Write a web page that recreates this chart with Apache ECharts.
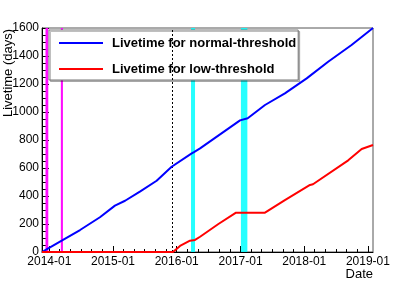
<!DOCTYPE html>
<html>
<head>
<meta charset="utf-8">
<script src="https://cdn.jsdelivr.net/npm/echarts@6/dist/echarts.min.js"></script>
<style>
html,body{margin:0;padding:0;background:#fff;}
#c{width:415px;height:281px;}
</style>
</head>
<body>
<div id="c"></div>
<script>
// ---- data ----
const normalDates = ['2013-11-20','2013-12-26','2014-03-13','2014-06-26','2014-10-18','2015-01-12','2015-03-11','2015-06-04','2015-09-08','2015-12-03','2016-03-27','2016-04-09','2016-05-14','2016-12-29','2017-02-11','2017-05-21','2017-09-12','2018-01-15','2018-05-18','2018-09-29','2019-01-30'];
const normalLivetime = [0,26,81,157,248,331,366,431,509,609,705,714,740,940,955,1050,1133,1240,1359,1479,1600];
const lowDates = ['2013-11-20','2015-12-11','2016-01-20','2016-03-17','2016-04-15','2016-05-14','2016-08-27','2016-12-06','2017-05-21','2017-09-12','2018-02-03','2018-02-20','2018-09-10','2018-11-26','2019-01-30'];
const lowLivetime = [0,0,43,81,86,109,200,281,281,371,479,484,655,736,764];
const yearTicks = ['2014-01','2015-01','2016-01','2017-01','2018-01','2019-01'];
const minorTickMonths = ['2014-03','2014-05','2014-07','2014-09','2014-11','2015-03','2015-05','2015-07','2015-09','2015-11','2016-03','2016-05','2016-07','2016-09','2016-11','2017-03','2017-05','2017-07','2017-09','2017-11','2018-03','2018-05','2018-07','2018-09','2018-11'];
const magentaBands = [['2013-12-10','2013-12-26'],['2014-03-08','2014-03-20']];
const cyanBands = [['2016-03-23','2016-04-15'],['2017-01-03','2017-02-09']];
const dottedLineDate = '2015-12-04';
const seriesNames = ['Livetime for normal-threshold','Livetime for low-threshold'];
const xMin = '2013-11-20', xMax = '2019-01-30';

function ts(s){ const p = s.split('-').map(Number); return Date.UTC(p[0], p[1]-1, p[2]||1); }
const FONT = 'Liberation Sans';

const chart = echarts.init(document.getElementById('c'), null, {renderer:'canvas'});
const bandData = magentaBands.map(b => [{xAxis: ts(b[0]), itemStyle:{color:'rgba(255,0,255,0.95)'}},{xAxis: ts(b[1])}])
  .concat(cyanBands.map(b => [{xAxis: ts(b[0]), itemStyle:{color:'rgba(0,255,255,0.85)'}},{xAxis: ts(b[1])}]));

chart.setOption({
  animation:false,
  backgroundColor:'#fff',
  grid:{left:42,right:42,top:28,bottom:29,show:true,borderColor:'#555',borderWidth:1,backgroundColor:'transparent'},
  legend:{
    orient:'vertical', left:49, top:30,
    padding:[6,2,4,10], itemGap:12, itemWidth:44, itemHeight:2, icon:'rect',
    backgroundColor:'#fff', borderColor:'#777', borderWidth:1,
    shadowColor:'rgba(0,0,0,0.25)', shadowOffsetX:1.5, shadowOffsetY:1.5, shadowBlur:0,
    textStyle:{fontFamily:FONT,fontSize:13,fontWeight:'bold',color:'#000',lineHeight:14,padding:[0,0,0,4]},
    data:seriesNames
  },
  xAxis:[{
    type:'value', min:ts(xMin), max:ts(xMax),
    axisLine:{show:true,lineStyle:{color:'#000',width:1}},
    axisTick:{show:true,inside:true,length:6,lineStyle:{color:'#000'},customValues:yearTicks.map(ts)},
    axisLabel:{show:true,color:'#000',fontFamily:FONT,fontSize:12,margin:4,
      customValues:yearTicks.map(ts),
      formatter:function(v){const d=new Date(v);return d.getUTCFullYear()+'-'+String(d.getUTCMonth()+1).padStart(2,'0');}},
    splitLine:{show:false}
  },{
    type:'value', min:ts(xMin), max:ts(xMax), position:'bottom',
    axisLine:{show:false},
    axisTick:{show:true,inside:true,length:3,lineStyle:{color:'#000'},customValues:minorTickMonths.map(ts)},
    axisLabel:{show:false},
    splitLine:{show:false}
  }],
  yAxis:{
    type:'value', min:0, max:1600, interval:200,
    axisLine:{show:true,lineStyle:{color:'#000',width:1}},
    axisTick:{show:true,inside:true,length:7,lineStyle:{color:'#000'}},
    minorTick:{show:true,splitNumber:4,length:4,lineStyle:{color:'#000'}},
    axisLabel:{color:'#000',fontFamily:FONT,fontSize:12,margin:3,formatter:function(v){return String(v);}},
    splitLine:{show:false}
  },
  graphic:[
    {type:'text',x:8,y:73,rotation:Math.PI/2,style:{text:'Livetime (days)',fontFamily:FONT,fontSize:13,fill:'#000',align:'center',verticalAlign:'middle'}},
    {type:'text',x:373,y:268,style:{text:'Date',fontFamily:FONT,fontSize:13,fill:'#000',align:'right',verticalAlign:'top'}}
  ],
  series:[{
    name:seriesNames[0], type:'line', symbol:'none', xAxisIndex:0,
    data:normalDates.map((d,i)=>[ts(d),normalLivetime[i]]),
    lineStyle:{color:'#0000ff',width:2}, itemStyle:{color:'#0000ff'}, z:5,
    markArea:{silent:true,z:1,data:bandData},
    markLine:{silent:true,symbol:'none',label:{show:false},lineStyle:{color:'#000',type:[2,2],width:1},data:[{xAxis:ts(dottedLineDate)}]}
  },{
    name:seriesNames[1], type:'line', symbol:'none', xAxisIndex:0,
    data:lowDates.map((d,i)=>[ts(d),lowLivetime[i]]),
    lineStyle:{color:'#ff0000',width:2}, itemStyle:{color:'#ff0000'}, z:5
  }]
});
</script>
</body>
</html>
